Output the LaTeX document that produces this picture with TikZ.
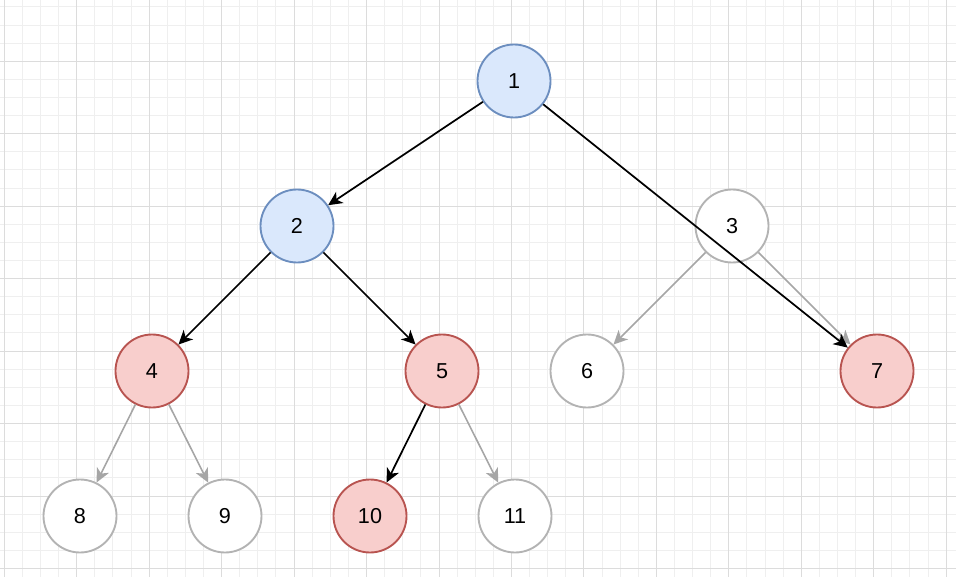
\documentclass[tikz,border=0pt]{standalone}
\usepackage{fontspec}
\setmainfont{Liberation Sans}
\usetikzlibrary{arrows.meta}
\definecolor{bluefill}{HTML}{DAE8FC}
\definecolor{bluedraw}{HTML}{6C8EBF}
\definecolor{redfill}{HTML}{F8CECC}
\definecolor{reddraw}{HTML}{B85450}
\definecolor{graydraw}{HTML}{B3B3B3}
\definecolor{edgegray}{HTML}{A6A6A6}
\definecolor{gridmajor}{HTML}{DCDCDC}
\definecolor{gridminor}{HTML}{EFEFEF}
\tikzset{
  treenode/.style={circle, minimum size=54.75pt, inner sep=0pt, line width=1.4pt, font=\fontsize{16.2pt}{19pt}\selectfont},
  bluenode/.style={treenode, draw=bluedraw, fill=bluefill},
  rednode/.style={treenode, draw=reddraw, fill=redfill},
  graynode/.style={treenode, draw=graydraw, fill=white},
  blackedge/.style={line width=1.3pt, black, -{Stealth[length=10.5pt, width=10pt, inset=3pt]}},
  grayedgestyle/.style={line width=1.2pt, edgegray, -{Stealth[length=10.5pt, width=10pt, inset=3pt]}},
  minorline/.style={gridminor, line width=0.75pt},
  majorline/.style={gridmajor, line width=0.75pt}
}
\begin{document}
\begin{tikzpicture}[x=0.75pt, y=-0.75pt]
\useasboundingbox (0,0) rectangle (956,577);
\fill[white] (0,0) rectangle (956,577);
% minor grid
\foreach \i in {-1,...,53} \draw[minorline] ({4.3+18.1125*\i},0) -- ++(0,577);
\foreach \i in {-4,...,29} \draw[minorline] (0,{61.3+18.1125*\i}) -- ++(956,0);
% major grid
\foreach \i in {0,...,13} \draw[majorline] ({4.3+72.45*\i},0) -- ++(0,577);
\foreach \i in {-1,...,7} \draw[majorline] (0,{61.3+72.45*\i}) -- ++(956,0);
% nodes
\node[bluenode] (n1) at (514,81) {1};
\node[bluenode] (n2) at (297,226) {2};
\node[graynode] (n3) at (732,226) {3};
\node[rednode] (n4) at (152,371) {4};
\node[rednode] (n5) at (442,371) {5};
\node[graynode] (n6) at (587,371) {6};
\node[rednode] (n7) at (877,371) {7};
\node[graynode] (n8) at (80,516) {8};
\node[graynode] (n9) at (225,516) {9};
\node[rednode] (n10) at (370,516) {10};
\node[graynode] (n11) at (515,516) {11};
% gray edges
\draw[grayedgestyle] (n3) -- (n6);
\draw[grayedgestyle] (n3) -- (n7);
\draw[grayedgestyle] (n4) -- (n8);
\draw[grayedgestyle] (n4) -- (n9);
\draw[grayedgestyle] (n5) -- (n11);
% black edges
\draw[blackedge] (n1) -- (n2);
\draw[blackedge] (n1) -- (n7);
\draw[blackedge] (n2) -- (n4);
\draw[blackedge] (n2) -- (n5);
\draw[blackedge] (n5) -- (n10);
\end{tikzpicture}
\end{document}
